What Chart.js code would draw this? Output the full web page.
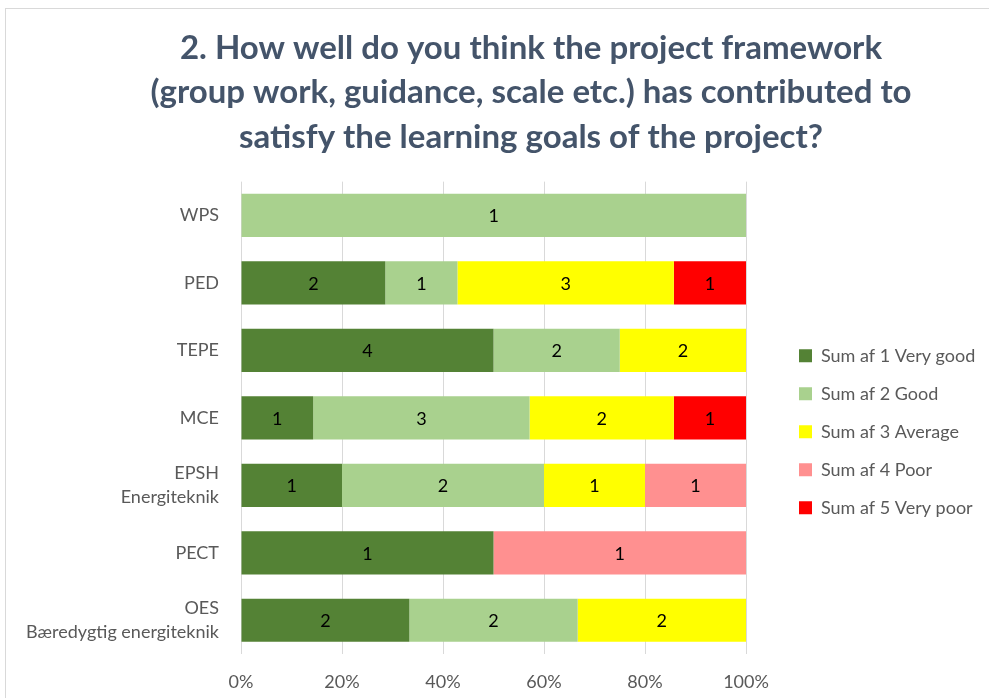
<!DOCTYPE html>
<html>
<head>
<meta charset="utf-8">
<script src="https://cdn.jsdelivr.net/npm/chart.js@4.4.1/dist/chart.umd.min.js"></script>
<style>
  html, body { margin: 0; padding: 0; background: #ffffff; overflow: hidden; }
  #frame { position: absolute; left: 5px; top: 8px; width: 1100px; height: 800px; border: 1px solid #D9D9D9; box-sizing: border-box; }
  #wrap { position: absolute; left: 0; top: 0; width: 989px; height: 698px; }
</style>
</head>
<body>
<div id="frame"></div>
<div id="wrap"><canvas id="c" width="989" height="698"></canvas></div>
<script>
const titleLines = [
  '2. How well do you think the project framework',
  '(group work, guidance, scale etc.) has contributed to',
  'satisfy the learning goals of the project?'
];
const categories = ['WPS', 'PED', 'TEPE', 'MCE', ['EPSH', 'Energiteknik'], 'PECT', ['OES', 'Bæredygtig energiteknik']];
const seriesNames = ['Sum af 1 Very good', 'Sum af 2 Good', 'Sum af 3 Average', 'Sum af 4 Poor', 'Sum af 5 Very poor'];
const veryGood = [0, 2, 4, 1, 1, 1, 2];
const good     = [1, 1, 2, 3, 2, 0, 2];
const average  = [0, 3, 2, 2, 1, 0, 2];
const poor     = [0, 0, 0, 0, 1, 1, 0];
const veryPoor = [0, 1, 0, 1, 0, 0, 0];
const seriesColors = ['#548235', '#A9D18E', '#FFFF00', '#FF9090', '#FF0000'];
const xTickValues = [0, 20, 40, 60, 80, 100];

const counts = [veryGood, good, average, poor, veryPoor];
const totals = categories.map((_, i) => counts.reduce((s, arr) => s + arr[i], 0));

const datasets = counts.map((arr, k) => ({
  label: seriesNames[k],
  data: arr.map((v, i) => v === 0 ? null : v / totals[i] * 100),
  counts: arr,
  backgroundColor: seriesColors[k],
  borderWidth: 0,
  barPercentage: 0.64,
  categoryPercentage: 1.0
}));

const FONT = 'Lato, "Open Sans", sans-serif';
const GREY = '#595959';

const countLabels = {
  id: 'countLabels',
  afterDatasetsDraw(chart) {
    const ctx = chart.ctx;
    ctx.save();
    ctx.font = '18px ' + FONT;
    ctx.fillStyle = '#000000';
    ctx.textAlign = 'center';
    ctx.textBaseline = 'middle';
    chart.data.datasets.forEach((ds, di) => {
      const meta = chart.getDatasetMeta(di);
      meta.data.forEach((bar, i) => {
        const c = ds.counts[i];
        if (!c) return;
        const p = bar.getCenterPoint();
        ctx.fillText(String(c), p.x, p.y + 1);
      });
    });
    ctx.restore();
  }
};

const layoutFix = {
  id: 'layoutFix',
  beforeInit(chart) {
    const orig = chart.legend.fit;
    chart.legend.fit = function () {
      orig.call(this);
      this.width = 243;
    };
  },
  afterLayout(chart) {
    if (chart.titleBlock) { chart.titleBlock.left = 73; }
    if (chart.legend) { chart.legend.left = 779; }
  }
};

new Chart(document.getElementById('c'), {
  type: 'bar',
  data: { labels: categories, datasets },
  plugins: [countLabels, layoutFix],
  options: {
    indexAxis: 'y',
    responsive: false,
    animation: false,
    layout: { padding: { left: 0, right: 0, top: 0, bottom: 0 } },
    plugins: {
      title: {
        display: true,
        text: titleLines,
        color: '#44546A',
        font: { family: FONT, size: 33, weight: 'bold', lineHeight: 1.35 },
        padding: { top: 26, bottom: 22 }
      },
      legend: {
        position: 'right',
        fullSize: false,
        title: { display: true, text: ' ', font: { size: 10, lineHeight: 1.2 }, padding: 8 },
        labels: {
          boxWidth: 13,
          boxHeight: 13,
          padding: 20,
          color: GREY,
          font: { family: FONT, size: 18 }
        }
      },
      tooltip: { enabled: false }
    },
    scales: {
      x: {
        stacked: true,
        min: 0,
        max: 100,
        afterFit(scale) { scale.height = 44; },
        afterBuildTicks(scale) { scale.ticks = xTickValues.map(v => ({ value: v })); },
        grid: { color: '#D9D9D9', lineWidth: 1, drawTicks: false },
        border: { display: false },
        ticks: {
          padding: 17,
          maxRotation: 0,
          color: GREY,
          font: { family: FONT, size: 18 },
          callback: v => v + '%'
        }
      },
      y: {
        stacked: true,
        afterFit(scale) { scale.width = 241; scale.paddingTop = 0; scale.paddingBottom = 0; },
        grid: { display: false, drawTicks: false },
        border: { display: false },
        ticks: {
          padding: 22,
          color: GREY,
          font: { family: FONT, size: 18, lineHeight: 1.3 }
        }
      }
    }
  }
});
</script>
</body>
</html>
